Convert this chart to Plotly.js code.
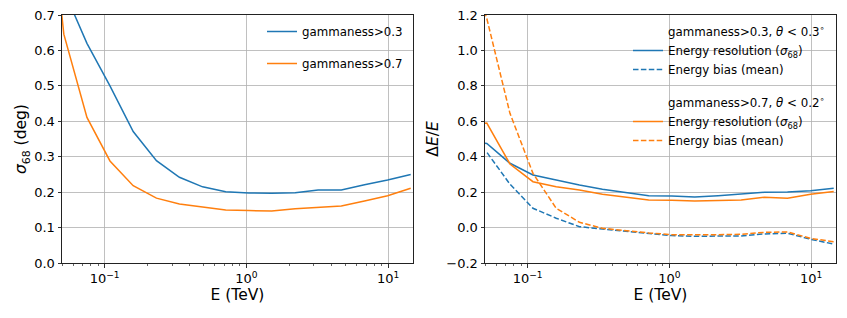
<!DOCTYPE html>
<html>
<head>
<meta charset="utf-8">
<script src="https://cdn.plot.ly/plotly-3.0.1.min.js"></script>
<style>html,body{margin:0;padding:0;background:#fff;}#chart{width:847px;height:318px;}</style>
</head>
<body>
<div id="chart"></div>
<script>
// Energy bin centres (TeV)
const energy = [0.0354, 0.0515, 0.075, 0.109, 0.159, 0.232, 0.337, 0.491, 0.715, 1.04, 1.51, 2.21, 3.21, 4.68, 6.82, 9.93, 14.45];

// Left panel: angular resolution sigma68 (deg)
const angRes03 = [0.95, 0.77, 0.62, 0.50, 0.371, 0.289, 0.242, 0.215, 0.201, 0.1975, 0.197, 0.198, 0.206, 0.206, 0.221, 0.234, 0.25];
const angRes07 = [1.27, 0.646, 0.411, 0.288, 0.218, 0.183, 0.1665, 0.157, 0.1496, 0.148, 0.147, 0.153, 0.158, 0.161, 0.175, 0.19, 0.211];

// Right panel: energy resolution and bias
const eRes03  = [0.49, 0.475, 0.363, 0.297, 0.269, 0.240, 0.216, 0.197, 0.180, 0.178, 0.173, 0.180, 0.188, 0.199, 0.201, 0.208, 0.222];
const eBias03 = [0.44, 0.425, 0.245, 0.109, 0.053, 0.005, -0.008, -0.020, -0.033, -0.045, -0.049, -0.048, -0.047, -0.036, -0.032, -0.066, -0.093];
const eRes07  = [0.58, 0.59, 0.359, 0.259, 0.231, 0.212, 0.188, 0.174, 0.156, 0.154, 0.150, 0.153, 0.156, 0.171, 0.165, 0.188, 0.203];
const eBias07 = [1.56, 1.18, 0.645, 0.306, 0.109, 0.030, -0.004, -0.018, -0.030, -0.040, -0.041, -0.040, -0.038, -0.027, -0.025, -0.061, -0.080];

// Labels
const labels03 = 'gammaness&gt;0.3';
const labels07 = 'gammaness&gt;0.7';
const header03 = 'gammaness&gt;0.3, <i>θ</i> &lt; 0.3<sup>∘</sup>';
const header07 = 'gammaness&gt;0.7, <i>θ</i> &lt; 0.2<sup>∘</sup>';
const resLabel = 'Energy resolution (<i>σ</i><sub>68</sub>)';
const biasLabel = 'Energy bias (mean)';
const xTickVals = [0.1, 1, 10];
const xTickText = ['10<sup>−1</sup>', '10<sup>0</sup>', '10<sup>1</sup>'];

const BLUE = '#1f77b4', ORANGE = '#ff7f0e';
const DASH = '5.5px,2.4px';
const FONT = 'DejaVu Sans, sans-serif';

const minorVals = [];
[0.01, 0.1, 1, 10].forEach(d => { for (let m = 2; m <= 9; m++) minorVals.push(m * d); });

const traces = [
  {x: energy, y: angRes03, xaxis: 'x', yaxis: 'y', mode: 'lines', name: labels03,
   line: {color: BLUE, width: 1.5}, legend: 'legend', legendgroup: 'a'},
  {x: energy, y: angRes07, xaxis: 'x', yaxis: 'y', mode: 'lines', name: labels07,
   line: {color: ORANGE, width: 1.5}, legend: 'legend', legendgroup: 'b'},

  {x: [null], y: [null], xaxis: 'x2', yaxis: 'y2', mode: 'lines', name: header03,
   line: {color: 'rgba(0,0,0,0)', width: 0}, legend: 'legend2', legendgroup: 'c'},
  {x: energy, y: eRes03, xaxis: 'x2', yaxis: 'y2', mode: 'lines', name: resLabel,
   line: {color: BLUE, width: 1.5}, legend: 'legend2', legendgroup: 'c'},
  {x: energy, y: eBias03, xaxis: 'x2', yaxis: 'y2', mode: 'lines', name: biasLabel,
   line: {color: BLUE, width: 1.5, dash: DASH}, legend: 'legend2', legendgroup: 'c'},

  {x: [null], y: [null], xaxis: 'x2', yaxis: 'y2', mode: 'lines', name: header07,
   line: {color: 'rgba(0,0,0,0)', width: 0}, legend: 'legend2', legendgroup: 'd'},
  {x: energy, y: eRes07, xaxis: 'x2', yaxis: 'y2', mode: 'lines', name: resLabel,
   line: {color: ORANGE, width: 1.5}, legend: 'legend2', legendgroup: 'd'},
  {x: energy, y: eBias07, xaxis: 'x2', yaxis: 'y2', mode: 'lines', name: biasLabel,
   line: {color: ORANGE, width: 1.5, dash: DASH}, legend: 'legend2', legendgroup: 'd'}
];

function xAxis(domain, anchor) {
  return {
    type: 'log', domain: domain, anchor: anchor,
    range: [Math.log10(0.05), Math.log10(15)],
    tickmode: 'array', tickvals: xTickVals, ticktext: xTickText,
    ticks: 'outside', ticklen: 3.5, tickwidth: 0.8, tickcolor: '#000',
    showgrid: true, gridcolor: '#b0b0b0', gridwidth: 0.8,
    showline: true, linecolor: '#222', linewidth: 1, mirror: true,
    zeroline: false,
    tickfont: {family: FONT, size: 13, color: '#000'},
    title: {text: 'E (TeV)', font: {family: FONT, size: 15.5, color: '#000'}, standoff: 3},
    minor: {tickmode: 'array', tickvals: minorVals, ticks: 'outside', ticklen: 2, tickwidth: 0.6, tickcolor: '#000', showgrid: false},
    automargin: false
  };
}
function yAxis(domain, anchor, range, dtick, title) {
  return {
    domain: domain, anchor: anchor, range: range, dtick: dtick, tick0: 0,
    tickformat: '.1f',
    ticks: 'outside', ticklen: 3.5, tickwidth: 0.8, tickcolor: '#000',
    showgrid: true, gridcolor: '#b0b0b0', gridwidth: 0.8,
    showline: true, linecolor: '#222', linewidth: 1, mirror: true,
    zeroline: false,
    tickfont: {family: FONT, size: 13, color: '#000'},
    title: {text: title, font: {family: FONT, size: 15.5, color: '#000'}, standoff: 3},
    automargin: false
  };
}

const yDom = [1 - 263/318, 1 - 15/318];
const layout = {
  width: 847, height: 318,
  margin: {l: 0, r: 0, t: 0, b: 0},
  paper_bgcolor: '#fff', plot_bgcolor: '#fff',
  showlegend: true,
  xaxis: xAxis([62/847, 413/847], 'y'),
  yaxis: yAxis(yDom, 'x', [0, 0.7], 0.1, '<i>σ</i><sub>68</sub> (deg)'),
  xaxis2: xAxis([485/847, 836/847], 'y2'),
  yaxis2: yAxis(yDom, 'x2', [-0.2, 1.2], 0.2, 'Δ<i>E</i>/<i>E</i>'),
  legend: {
    x: 262/847, y: 1 - 17/318, xanchor: 'left', yanchor: 'top',
    bgcolor: 'rgba(0,0,0,0)', borderwidth: 0,
    font: {family: FONT, size: 11.8, color: '#000'},
    traceorder: 'grouped', tracegroupgap: 13
  },
  legend2: {
    x: 628/847, y: 1 - 17/318, xanchor: 'left', yanchor: 'top',
    bgcolor: 'rgba(0,0,0,0)', borderwidth: 0,
    font: {family: FONT, size: 11.8, color: '#000'},
    traceorder: 'grouped', tracegroupgap: 14
  }
};

Plotly.newPlot('chart', traces, layout, {displayModeBar: false, staticPlot: true});
</script>
</body>
</html>
